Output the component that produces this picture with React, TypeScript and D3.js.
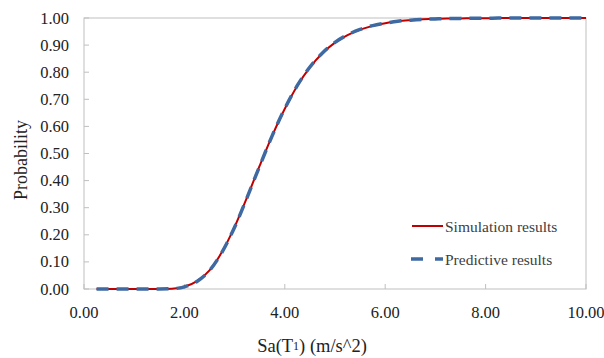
import React from 'react';
import * as d3 from 'd3';

const saValues = [
  0.25, 0.5, 0.75, 1.0, 1.25, 1.5, 1.75, 2.0, 2.25, 2.5, 2.75, 3.0, 3.25, 3.5, 3.75, 4.0,
  4.25, 4.5, 4.75, 5.0, 5.25, 5.5, 5.75, 6.0, 6.25, 6.5, 6.75, 7.0, 7.25, 7.5, 7.75, 8.0,
  8.25, 8.5, 8.75, 9.0, 9.25, 9.5, 9.75, 10.0,
];
const simulationProb = [
  0, 0, 0, 0, 0, 0, 0.001, 0.008, 0.029, 0.069, 0.137, 0.229, 0.339, 0.455, 0.566, 0.665,
  0.75, 0.818, 0.87, 0.909, 0.937, 0.957, 0.971, 0.981, 0.988, 0.992, 0.995, 0.997, 0.998, 0.9986, 0.999, 0.9994,
  0.9996, 0.9997, 0.9998, 0.9999, 1, 1, 1, 1,
];
const predictiveProb = [
  0, 0, 0, 0, 0, 0, 0.001, 0.008, 0.028, 0.068, 0.136, 0.228, 0.338, 0.454, 0.566, 0.666,
  0.751, 0.819, 0.871, 0.91, 0.938, 0.958, 0.972, 0.981, 0.988, 0.992, 0.995, 0.9967, 0.998, 0.9986, 0.999, 0.9994,
  0.9996, 0.9997, 0.9998, 0.9999, 1, 1, 1, 1,
];
const xTicks = [0, 2, 4, 6, 8, 10];
const yTicks = [0, 0.1, 0.2, 0.3, 0.4, 0.5, 0.6, 0.7, 0.8, 0.9, 1.0];

const W = 604;
const H = 358;
const margin = { left: 84, right: 18, top: 18, bottom: 69 };
const font = '"Liberation Serif", "Times New Roman", serif';

export default function App() {
  const x = d3.scaleLinear().domain([0, 10]).range([margin.left, W - margin.right]);
  const y = d3.scaleLinear().domain([0, 1]).range([H - margin.bottom, margin.top]);

  const line = d3
    .line<number>()
    .x((_, i) => x(saValues[i]))
    .y((d) => y(d))
    .curve(d3.curveMonotoneX);

  const axisColor = '#bfbfbf';
  const red = '#c00000';
  const blue = '#3e6aa1';

  return (
    <svg width={W} height={H} style={{ position: 'absolute', left: 0, top: 0, background: '#fff' }}>
      <rect x={0} y={0} width={W} height={H} fill="#fff" />
      {/* plot frame */}
      <rect
        x={x(0)}
        y={y(1)}
        width={x(10) - x(0)}
        height={y(0) - y(1)}
        fill="none"
        stroke={axisColor}
        strokeWidth={1}
      />
      {/* y ticks */}
      {yTicks.map((t) => (
        <g key={'y' + t}>
          <line x1={x(0)} x2={x(0) + 5} y1={y(t)} y2={y(t)} stroke={axisColor} />
          <text
            x={x(0) - 15}
            y={y(t)}
            textAnchor="end"
            dominantBaseline="central"
            fontFamily={font}
            fontSize={16.5}
            fill="#222"
          >
            {t.toFixed(2)}
          </text>
        </g>
      ))}
      {/* x ticks */}
      {xTicks.map((t) => (
        <g key={'x' + t}>
          <line x1={x(t)} x2={x(t)} y1={y(0)} y2={y(0) - 5} stroke={axisColor} />
          <text
            x={x(t)}
            y={y(0) + 23}
            textAnchor="middle"
            dominantBaseline="central"
            fontFamily={font}
            fontSize={16.5}
            fill="#222"
          >
            {t.toFixed(2)}
          </text>
        </g>
      ))}
      {/* series */}
      <path d={line(simulationProb) || ''} fill="none" stroke={red} strokeWidth={2} />
      <path
        d={line(predictiveProb) || ''}
        fill="none"
        stroke={blue}
        strokeWidth={3.5}
        strokeDasharray="12 8"
      />
      {/* axis titles */}
      <text
        transform={`translate(${21},${160}) rotate(-90)`}
        textAnchor="middle"
        dominantBaseline="central"
        fontFamily={font}
        fontSize={18}
        fill="#222"
      >
        Probability
      </text>
      <text
        x={312}
        y={346}
        textAnchor="middle"
        dominantBaseline="central"
        fontFamily={font}
        fontSize={18.5}
        fill="#222"
      >
        Sa(T<tspan fontSize={12}>1</tspan>) (m/s^2)
      </text>
      {/* legend */}
      <line x1={412} x2={443} y1={226} y2={226} stroke={red} strokeWidth={2} />
      <text x={445} y={226} dominantBaseline="central" fontFamily={font} fontSize={15.5} fill="#404040">
        Simulation results
      </text>
      <line x1={411} x2={443} y1={259} y2={259} stroke={blue} strokeWidth={3.5} strokeDasharray="12 12" />
      <text x={445} y={259} dominantBaseline="central" fontFamily={font} fontSize={15.5} fill="#404040">
        Predictive results
      </text>
    </svg>
  );
}
